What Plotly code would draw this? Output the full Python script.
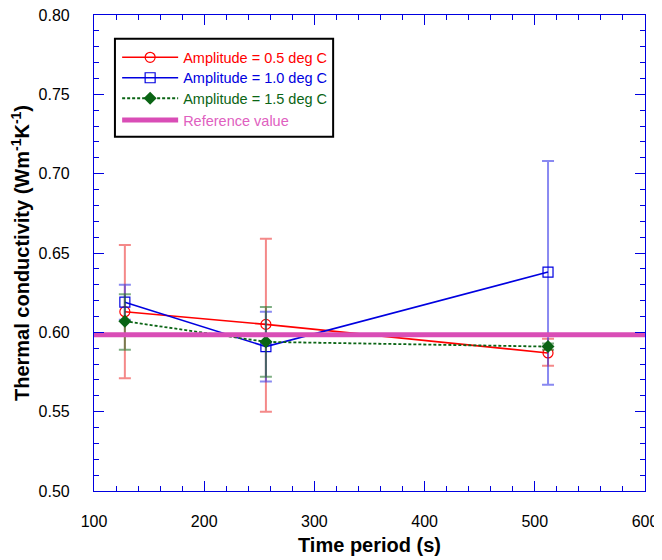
import plotly.graph_objects as go

periods = [128, 256, 512]

amp05_k = [0.613, 0.605, 0.587]
amp05_err_plus = [0.042, 0.054, 0.009]
amp05_err_minus = [0.042, 0.055, 0.008]

amp10_k = [0.619, 0.591, 0.638]
amp10_err_plus = [0.011, 0.022, 0.070]
amp10_err_minus = [0.011, 0.022, 0.071]

amp15_k = [0.607, 0.594, 0.591]
amp15_err_plus = [0.017, 0.022, 0.002]
amp15_err_minus = [0.018, 0.022, 0.002]

ref_x = [100, 600]
ref_k = [0.5985, 0.5985]

x_ticks = [100, 200, 300, 400, 500, 600]
y_ticks = [0.50, 0.55, 0.60, 0.65, 0.70, 0.75, 0.80]

RED = "#FF0000"
BLUE = "#0000E0"
GREEN = "#0A6414"
PINK = "#D94DB6"
PINK_TEXT = "#E060C0"
FONT = "Liberation Sans, Arial, sans-serif"

fig = go.Figure()

fig.add_trace(go.Scatter(
    x=periods, y=amp05_k, name="Amplitude = 0.5 deg C", mode="lines+markers",
    line=dict(color=RED, width=1.6), legend="legend",
    marker=dict(symbol="circle-open", size=10, color=RED, line=dict(width=1.2)),
    error_y=dict(type="data", array=amp05_err_plus, arrayminus=amp05_err_minus,
                 color="rgba(235,40,40,0.55)", thickness=2, width=6),
))
fig.add_trace(go.Scatter(
    x=periods, y=amp10_k, name="Amplitude = 1.0 deg C", mode="lines+markers",
    line=dict(color=BLUE, width=1.6), legend="legend2",
    marker=dict(symbol="square-open", size=10, color=BLUE, line=dict(width=1.2)),
    error_y=dict(type="data", array=amp10_err_plus, arrayminus=amp10_err_minus,
                 color="rgba(40,40,230,0.55)", thickness=2, width=6),
))
fig.add_trace(go.Scatter(
    x=periods, y=amp15_k, name="Amplitude = 1.5 deg C", mode="lines+markers",
    line=dict(color=GREEN, width=1.8, dash="3px,2px"), legend="legend3",
    marker=dict(symbol="diamond", size=10, color=GREEN),
    error_y=dict(type="data", array=amp15_err_plus, arrayminus=amp15_err_minus,
                 color="rgba(20,110,30,0.55)", thickness=2, width=6),
))
fig.add_trace(go.Scatter(
    x=ref_x, y=ref_k, name="Reference value", mode="lines", legend="legend4",
    line=dict(color=PINK, width=5), cliponaxis=False,
))

tick_common = dict(
    showline=True, linecolor=BLUE, linewidth=1.2,
    ticks="inside", tickcolor=BLUE, tickwidth=1.2, ticklen=10,
    showgrid=False, zeroline=False, automargin=False,
    ticklabeloverflow="allow",
    tickfont=dict(family=FONT, size=16, color="black"),
)

fig.update_layout(
    xaxis=dict(
        range=[100, 600], tickvals=x_ticks, ticktext=[str(v) for v in x_ticks],
        minor=dict(dtick=20, ticks="inside", ticklen=5, tickcolor=BLUE, tickwidth=1.2),
        title=dict(text="<b>Time period (s)</b>", font=dict(family=FONT, size=20, color="black"), standoff=8),
        ticklabelstandoff=16,
        **tick_common,
    ),
    yaxis=dict(
        range=[0.50, 0.80], tickvals=y_ticks, ticktext=[f"{v:.2f}" for v in y_ticks],
        minor=dict(dtick=0.01, ticks="inside", ticklen=5, tickcolor=BLUE, tickwidth=1.2),
        title=dict(text="<b>Thermal conductivity (Wm<sup>-1</sup>K<sup>-1</sup>)</b>",
                   font=dict(family=FONT, size=20, color="black"), standoff=7),
        ticklabelstandoff=20,
        **tick_common,
    ),
    xaxis2=dict(
        range=[100, 600], tickvals=x_ticks, showticklabels=False, overlaying="x", side="top",
        minor=dict(dtick=20, ticks="inside", ticklen=5, tickcolor=BLUE, tickwidth=1.2),
        **tick_common,
    ),
    yaxis2=dict(
        range=[0.50, 0.80], tickvals=y_ticks, showticklabels=False, overlaying="y", side="right",
        minor=dict(dtick=0.01, ticks="inside", ticklen=5, tickcolor=BLUE, tickwidth=1.2),
        **tick_common,
    ),
)

# invisible trace to activate the mirrored axes
fig.add_trace(go.Scatter(x=[100], y=[0.5], xaxis="x2", yaxis="y2", mode="markers",
                         marker=dict(opacity=0), showlegend=False, hoverinfo="skip"))

# legend frame
fig.add_shape(type="rect", xref="paper", yref="paper",
              x0=0.038, x1=0.434, y0=0.744, y1=0.950,
              line=dict(color="black", width=2), fillcolor="white", layer="below")

def legend_row(y, color):
    return dict(x=0.042, y=y, xanchor="left", yanchor="middle",
                bgcolor="rgba(0,0,0,0)", borderwidth=0,
                font=dict(family=FONT, size=14.5, color=color),
                itemwidth=56, tracegroupgap=0)

# page body has an 8px margin, so the figure is sized to fill the 662x560 window
fig.update_layout(
    width=654, height=552,
    margin=dict(l=86, r=17, t=7, b=69),
    paper_bgcolor="white", plot_bgcolor="white",
    font=dict(family=FONT),
    showlegend=True,
    legend=legend_row(0.911, RED),
    legend2=legend_row(0.868, BLUE),
    legend3=legend_row(0.825, GREEN),
    legend4=legend_row(0.779, PINK_TEXT),
)

fig.write_html("out.html")
